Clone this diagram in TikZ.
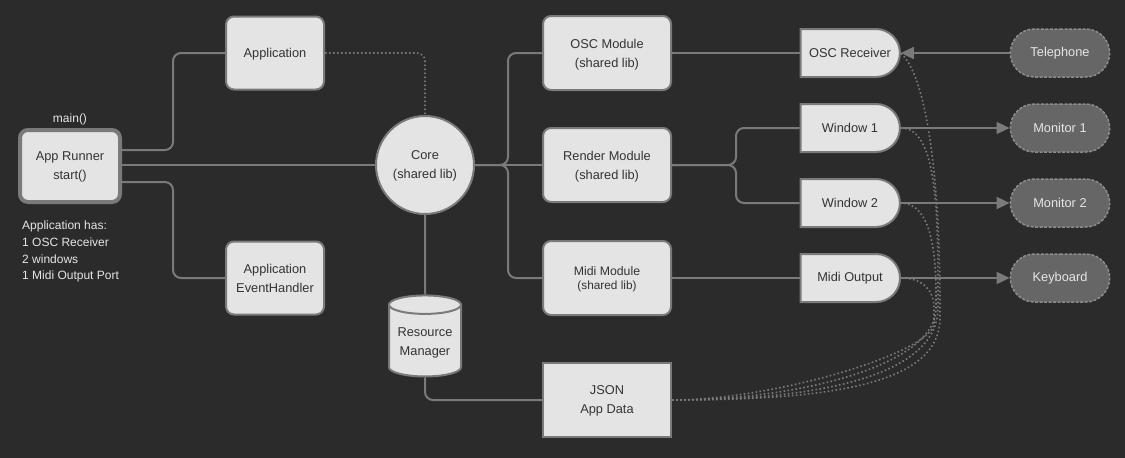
\documentclass[tikz,border=0pt]{standalone}
\usepackage{fontspec}
\setmainfont{Liberation Sans}
\usetikzlibrary{arrows.meta,shapes.geometric,shapes.misc,positioning}

\definecolor{bgdark}{HTML}{2B2B2B}
\definecolor{boxfill}{HTML}{E4E4E4}
\definecolor{linegray}{HTML}{7A7A7A}
\definecolor{devfill}{HTML}{666666}
\definecolor{devedge}{HTML}{8C8C8C}
\definecolor{textdark}{HTML}{333333}
\definecolor{textlight}{HTML}{E6E6E6}

\tikzset{
	box/.style={draw=linegray, line width=2pt, fill=boxfill, text=textdark, align=center,
		rounded corners=8pt, inner sep=2pt, text depth=0pt, font=\fontsize{12.8}{19}\selectfont},
	module/.style={box, minimum width=128pt, minimum height=74pt},
	appbox/.style={box, minimum width=98pt, minimum height=73pt},
	runnerbox/.style={box, line width=4pt, minimum width=100pt, minimum height=72pt},
	endpoint/.style={draw=linegray, line width=2pt, fill=boxfill, text=textdark,
		rounded rectangle, rounded rectangle west arc=none, minimum width=106pt,
		minimum height=48pt, font=\fontsize{12.8}{15}\selectfont},
	device/.style={draw=devedge, line width=1.5pt, dash pattern=on 3pt off 1.5pt, fill=devfill,
		text=textlight, rounded rectangle, minimum width=106pt, minimum height=48pt,
		font=\fontsize{12.8}{15}\selectfont},
	conn/.style={draw=linegray, line width=2pt, rounded corners=8pt},
	dotline/.style={draw=linegray, line width=1.6pt, dash pattern=on 1.6pt off 2.4pt, rounded corners=8pt},
	feed/.style={conn, -{Triangle[length=13pt,width=12pt]}},
	note/.style={text=textlight, font=\fontsize{12}{16.7}\selectfont}
}

\begin{document}
\begin{tikzpicture}[x=1pt, y=-1pt]
	\fill[bgdark] (0,0) rectangle (1125,458);
	\useasboundingbox (0,0) rectangle (1125,458);

	% left column
	\node[runnerbox, label={[note, yshift=-1pt]above:main()}] (runner) at (70,166) {App Runner\\start()};
	\node[note, align=left, anchor=north west, inner sep=0pt] (hasnote) at (22,221)
		{Application has:\\1 OSC Receiver\\2 windows\\1 Midi Output Port};

	\node[appbox] (app) at (275,53) {Application};
	\node[appbox] (handler) at (275,278) {Application\\EventHandler};

	% core
	\node[draw=linegray, line width=2pt, fill=boxfill, circle, minimum size=98pt, text=textdark,
		align=center, text depth=0pt, font=\fontsize{12.8}{19}\selectfont] (core) at (425,165) {Core\\(shared lib)};
	\node[draw=linegray, line width=2pt, fill=boxfill, cylinder, shape border rotate=90, aspect=0.3,
		minimum width=72pt, minimum height=81pt, text=textdark, align=center,
		font=\fontsize{12.8}{19}\selectfont] (resource) at (425,343) {Resource\\Manager};

	% modules
	\node[module] (osc) at (607,53) {OSC Module\\(shared lib)};
	\node[module, font=\fontsize{12.3}{14}\selectfont] (midi) at (607,278) {Midi Module\\{\fontsize{11.8}{14}\selectfont(shared lib)}};
	\node[module] (render) at (607,165) {Render Module\\(shared lib)};
	\node[module, rounded corners=0pt] (json) at (607,400) {JSON\\App Data};

	% endpoints
	\node[endpoint] (oscrx) at (850,53) {OSC Receiver};
	\node[endpoint] (win1) at (850,128) {Window 1};
	\node[endpoint] (win2) at (850,203) {Window 2};
	\node[endpoint] (midiout) at (850,278) {Midi Output};

	% devices
	\node[device] (phone) at (1060,53) {Telephone};
	\node[device] (mon1) at (1060,128) {Monitor 1};
	\node[device] (mon2) at (1060,203) {Monitor 2};
	\node[device] (keys) at (1060,278) {Keyboard};

	% connectors
	\draw[conn] ([yshift=16pt]runner.east) -- ++(51,0) |- (app.west);
	\draw[conn] (runner.east |- core.west) -- (core.west);
	\draw[conn] ([yshift=-16pt]runner.east) -- ++(51,0) |- (handler.west);
	\draw[dotline] (app.east) -| (core.north);
	\draw[conn] (core.south) -- (resource.north);
	\draw[conn] (resource.south) |- (json.west);

	\draw[conn] (core.east) -- ++(33,0) |- (osc.west);
	\draw[conn] (core.east) -- (render.west);
	\draw[conn] (core.east) -- ++(33,0) |- (midi.west);

	\draw[conn] (osc.east) -- (oscrx.west);
	\draw[conn] (render.east) -- ++(64,0) |- (win1.west);
	\draw[conn] (render.east) -- ++(64,0) |- (win2.west);
	\draw[conn] (midi.east) -- (midiout.west);

	\draw[feed] (phone.west) -- (oscrx.east);
	\draw[feed] (win1.east) -- (mon1.west);
	\draw[feed] (win2.east) -- (mon2.west);
	\draw[feed] (midiout.east) -- (keys.west);

	% app data feeds
	\draw[dotline] (json.east) .. controls (840,400) and (940,382) .. (940,310)
		.. controls (940,200) and (930,80) .. (oscrx.east);
	\draw[dotline] (json.east) .. controls (825,400) and (938,374) .. (938,300)
		.. controls (938,200) and (935,128) .. (win1.east);
	\draw[dotline] (json.east) .. controls (800,400) and (936,365) .. (936,300)
		.. controls (936,250) and (930,203) .. (win2.east);
	\draw[dotline] (json.east) .. controls (775,400) and (934,352) .. (934,315)
		.. controls (934,293) and (925,278) .. (midiout.east);
\end{tikzpicture}
\end{document}
